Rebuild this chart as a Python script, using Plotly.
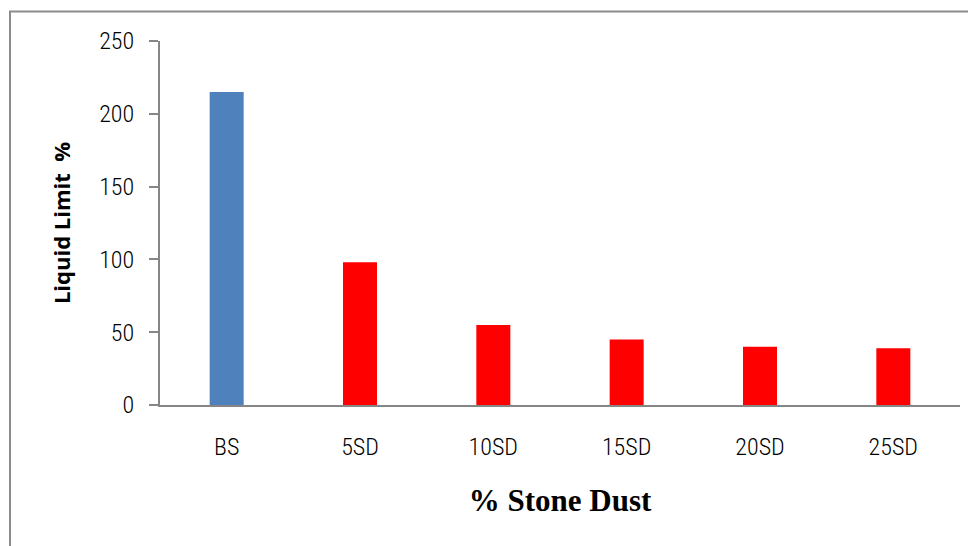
import plotly.graph_objects as go

categories = ["BS", "5SD", "10SD", "15SD", "20SD", "25SD"]
liquid_limit = [215, 98, 55, 45, 40, 39]
bar_colors = ["#4F81BD", "#FF0000", "#FF0000", "#FF0000", "#FF0000", "#FF0000"]
y_ticks = [0, 50, 100, 150, 200, 250]

W, H = 976, 546
OFF = 8  # page body margin
L, R, T, B = 160 - OFF, 16 + OFF, 41 - OFF, 141 + OFF

fig = go.Figure(go.Bar(
    x=categories, y=liquid_limit,
    marker=dict(color=bar_colors, line=dict(color=bar_colors, width=0)),
    width=0.255,
))

tickfam = "Roboto Condensed, Liberation Sans, sans-serif"
titlefam = "Open Sans, sans-serif"

fig.update_layout(
    width=W, height=H,
    margin=dict(l=L, r=R, t=T, b=B, pad=0),
    plot_bgcolor="white", paper_bgcolor="white",
    showlegend=False,
    font=dict(family=tickfam, size=24, color="#000000"),
    xaxis=dict(
        showline=True, linecolor="#868686", linewidth=2,
        ticks="", showgrid=False, zeroline=False,
        tickfont=dict(family=tickfam, size=24, color="#000", weight=300),
        ticklabelstandoff=19,
        title=dict(text="<b>% Stone Dust</b>",
                   font=dict(family="Liberation Serif, Times New Roman, serif", size=31, color="#000"),
                   standoff=30),
    ),
    yaxis=dict(
        range=[0, 250], tickvals=y_ticks,
        showline=True, linecolor="#868686", linewidth=2,
        ticks="outside", ticklen=9, tickcolor="#868686", tickwidth=2,
        showgrid=False, zeroline=False,
        tickfont=dict(family=tickfam, size=24, color="#000", weight=300),
        ticklabelstandoff=10,
        title=dict(text="<b>Liquid Limit  %</b>",
                   font=dict(family=titlefam, size=22, color="#000"),
                   standoff=22),
    ),
)

plot_w = W - L - R
plot_h = H - T - B
# outer chart border (page px: left 10, top 11.5)
fig.add_shape(
    type="rect", xref="paper", yref="paper",
    x0=(10 - OFF - L) / plot_w, x1=(W + 20 - OFF - L) / plot_w,
    y0=-(H + 20 - T - plot_h) / plot_h, y1=(plot_h + T - 11.5 + OFF) / plot_h,
    line=dict(color="#8C8C8C", width=2), fillcolor="rgba(0,0,0,0)",
    layer="below",
)

fig.write_html("out.html")
